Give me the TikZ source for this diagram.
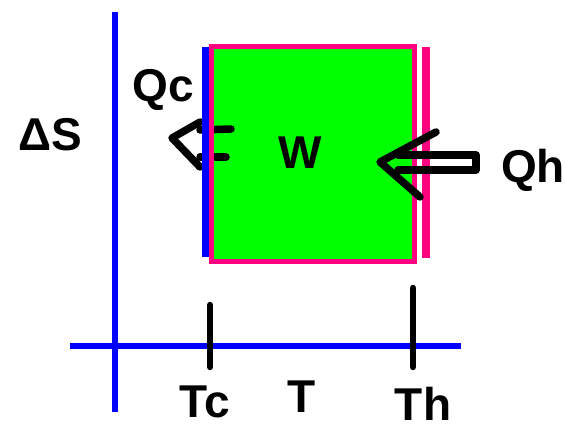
\documentclass[tikz,border=0pt]{standalone}
\usepackage{fontspec}
\setmainfont{Liberation Sans}
\definecolor{pgreen}{RGB}{0,255,0}
\definecolor{ppink}{RGB}{255,0,128}
\definecolor{pblue}{RGB}{0,0,255}
\begin{document}
\begin{tikzpicture}[x=1pt,y=-1pt,
  axisline/.style={pblue,line width=6pt},
  pinkline/.style={ppink,line width=6pt},
  arrowline/.style={black,line width=7.5pt,line cap=round,line join=round},
  lbl/.style={font=\fontsize{46}{46}\selectfont\bfseries,inner sep=0pt,anchor=center}]
\useasboundingbox (0,0) rectangle (565,430);
% axes
\coordinate (vtop) at (115,12);
\coordinate (vbot) at (115,412);
\coordinate (hl) at (70,346);
\coordinate (hr) at (461,346);
\draw[axisline] (vtop) -- (vbot);
\draw[axisline] (hl) -- (hr);
% ticks
\coordinate (tc1) at (210,305);
\coordinate (tc2) at (210,367);
\coordinate (th1) at (413,288);
\coordinate (th2) at (413,367);
\draw[arrowline,line width=6.5pt] (tc1) -- (tc2);
\draw[arrowline,line width=6.5pt] (th1) -- (th2);
% green rectangle fill
\coordinate (rnw) at (211,47);
\coordinate (rse) at (414,262);
\fill[pgreen] (rnw) rectangle (rse);
% Qc arrow (under the lines)
\coordinate (qctip) at (172,138);
\coordinate (qcu) at (200,122);
\coordinate (qcl) at (200,167);
\coordinate (qcs1a) at (200,130);
\coordinate (qcs1b) at (231,129);
\coordinate (qcs2a) at (200,157);
\coordinate (qcs2b) at (226,157);
\draw[arrowline] (qcu) -- (qctip) -- (qcl);
\draw[arrowline] (qcs1a) -- (qcs1b);
\draw[arrowline] (qcs2a) -- (qcs2b);
% rectangle border and side lines
\draw[pinkline,line width=5pt] (rnw) rectangle (rse);
\coordinate (bl1) at (205,47);
\coordinate (bl2) at (205,257);
\draw[axisline,line width=7pt] (bl1) -- (bl2);
\coordinate (pr1) at (426,47);
\coordinate (pr2) at (426,258);
\draw[pinkline,line width=8pt] (pr1) -- (pr2);
% Qh arrow
\coordinate (qhtip) at (380,162);
\coordinate (qhu) at (436,132);
\coordinate (qhl) at (420,197);
\coordinate (qhs1a) at (398,155);
\coordinate (qhs1b) at (476,155);
\coordinate (qhs2a) at (398,170);
\coordinate (qhs2b) at (476,170);
\draw[arrowline] (qhu) -- (qhtip) -- (qhl);
\draw[arrowline] (qhs1a) -- (qhs1b) -- (qhs2b) -- (qhs2a);
% labels
\node[lbl] (ds) at (50,135) {ΔS};
\node[lbl] (qc) at (163,90) {Qc};
\node[lbl] (w) at (300,153) {W};
\node[lbl] (qh) at (533,170) {Qh};
\node[lbl] (tcl) at (205,402) {Tc};
\node[lbl] (tl) at (302,397) {T};
\node[lbl] (thl) at (423,404) {Th};
\end{tikzpicture}
\end{document}
